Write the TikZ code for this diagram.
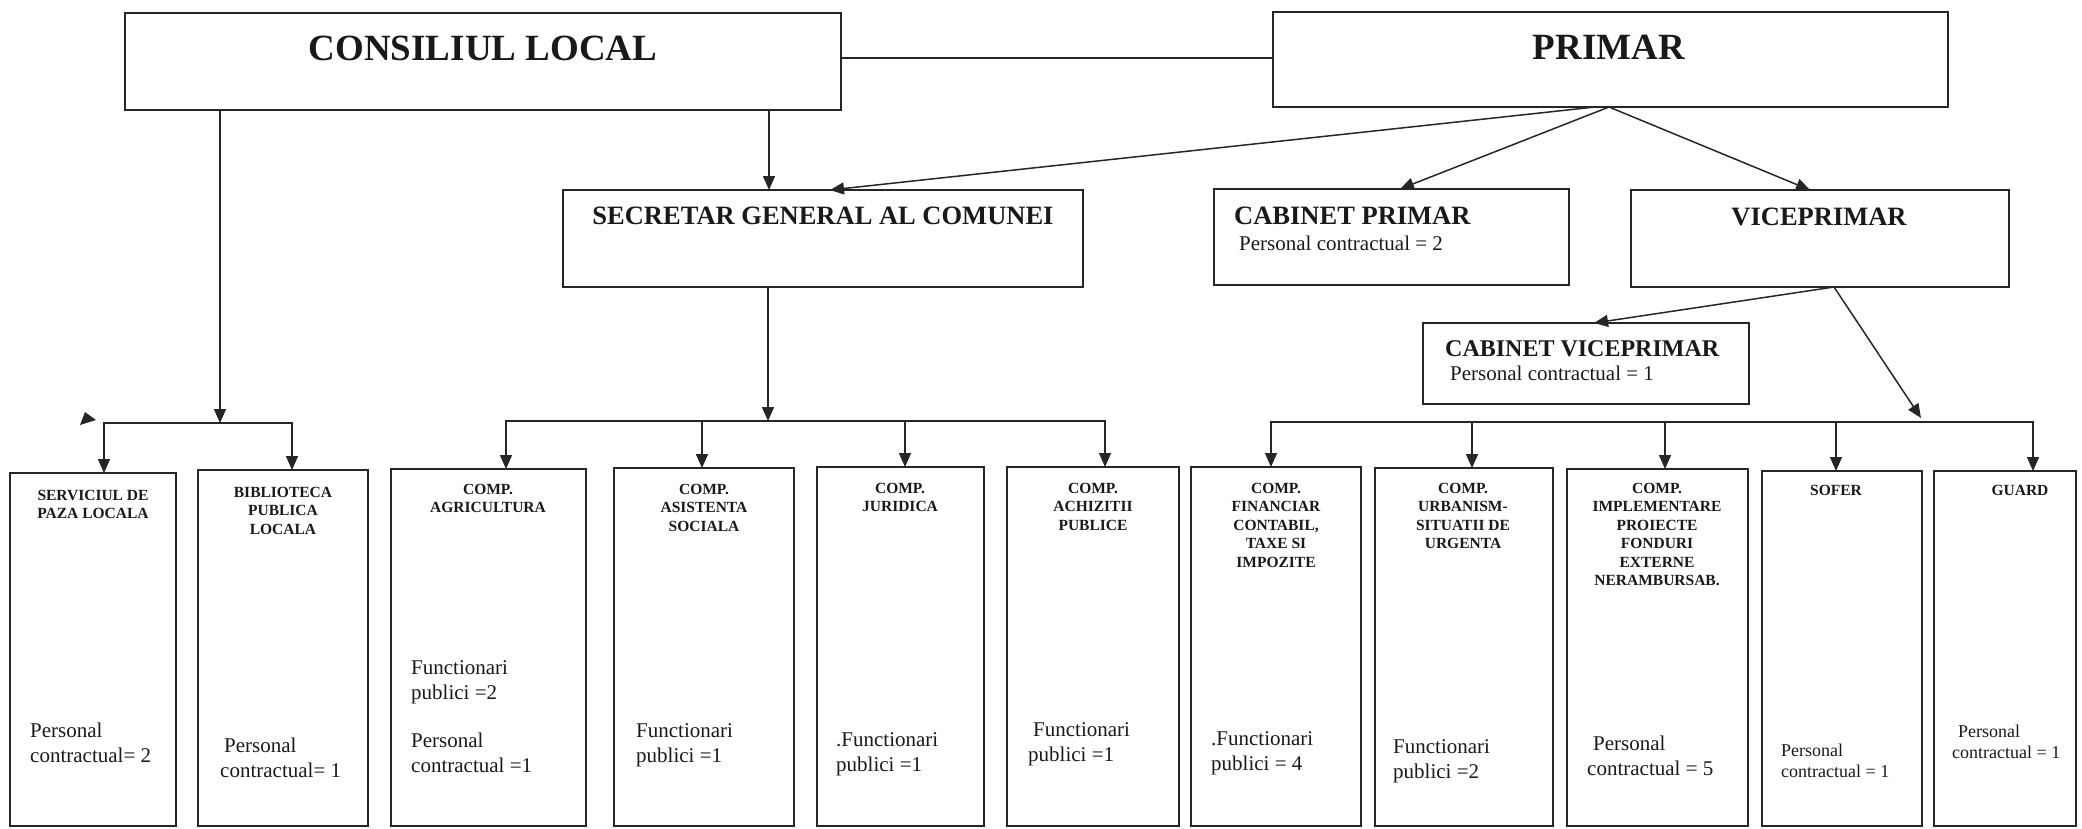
\documentclass[tikz,border=0pt]{standalone}
\usepackage{fontspec}
\setmainfont{Liberation Serif}
\usetikzlibrary{arrows.meta}
\newcommand\obox[5]{\node[box, minimum width={#4-#2}, minimum height={#5-#3}] (#1) at ({(#2+#4)/2},{(#3+#5)/2}) {};}
\tikzset{
 box/.style={draw=black!85, line width=1.8pt, inner sep=0pt, outer sep=0pt, rectangle},
 conn/.style={draw=black!85, line width=1.5pt},
 arr/.style={conn, -{Triangle[length=14pt,width=12pt]}},
 bigt/.style={inner sep=0pt, anchor=north, text=black!90, font=\bfseries\fontsize{37}{44}\selectfont},
 midt/.style={inner sep=0pt, text=black!90, font=\bfseries\fontsize{26.5}{31}\selectfont},
 smt/.style={inner sep=0pt, anchor=north, align=center, text=black!90, font=\bfseries\fontsize{15.5}{18.5}\selectfont},
 bodyt/.style={inner sep=0pt, anchor=north west, align=left, text=black!90, font=\fontsize{21}{25}\selectfont},
 smbody/.style={inner sep=0pt, anchor=north west, align=left, text=black!90, font=\fontsize{18}{20.5}\selectfont}
}
\begin{document}
\begin{tikzpicture}[x=1pt,y=-1pt]
\useasboundingbox (0,0) rectangle (2082,828);
% boxes
\obox{cl}{125}{13}{841}{110}
\obox{pr}{1273}{12}{1948}{107}
\obox{sec}{563}{190}{1083}{287}
\obox{cp}{1214}{189}{1569}{285}
\obox{vp}{1631}{190}{2009}{287}
\obox{cvp}{1423}{323}{1749}{404}
\obox{srv}{10}{473}{176}{826}
\obox{bib}{198}{470}{368}{826}
\obox{agr}{391}{469}{586}{826}
\obox{asi}{614}{468}{794}{826}
\obox{jur}{817}{467}{984}{826}
\obox{ach}{1007}{467}{1179}{826}
\obox{fin}{1191}{467}{1361}{826}
\obox{urb}{1375}{468}{1553}{826}
\obox{imp}{1567}{469}{1748}{826}
\obox{sof}{1762}{471}{1922}{826}
\obox{gua}{1934}{471}{2076}{826}
% titles
\node[bigt] (tcl) at (483,36) {CONSILIUL LOCAL};
\node[bigt] (tpr) at (1609,35) {PRIMAR};
\node[midt, anchor=north] (tsec) at (823,207) {SECRETAR GENERAL AL COMUNEI};
\node[midt, anchor=north west] (tcp) at (1234,207) {CABINET PRIMAR};
\node[bodyt] (bcp) at (1239,236) {Personal contractual = 2};
\node[midt, anchor=north] (tvp) at (1819,208) {VICEPRIMAR};
\node[midt, anchor=north west, font=\bfseries\fontsize{24}{28}\selectfont] (tcvp) at (1445,340) {CABINET VICEPRIMAR};
\node[bodyt] (bcvp) at (1450,366) {Personal contractual = 1};
% small box titles
\node[smt] (tsrv) at (93,490) {SERVICIUL DE\\PAZA LOCALA};
\node[smt] (tbib) at (283,487) {BIBLIOTECA\\PUBLICA\\LOCALA};
\node[smt] (tagr) at (488,484) {COMP.\\AGRICULTURA};
\node[smt] (tasi) at (704,484) {COMP.\\ASISTENTA\\SOCIALA};
\node[smt] (tjur) at (900,483) {COMP.\\JURIDICA};
\node[smt] (tach) at (1093,483) {COMP.\\ACHIZITII\\PUBLICE};
\node[smt] (tfin) at (1276,483) {COMP.\\FINANCIAR\\CONTABIL,\\TAXE SI\\IMPOZITE};
\node[smt] (turb) at (1463,483) {COMP.\\URBANISM-\\SITUATII DE\\URGENTA};
\node[smt] (timp) at (1657,483) {COMP.\\IMPLEMENTARE\\PROIECTE\\FONDURI\\EXTERNE\\NERAMBURSAB.};
\node[smt] (tsof) at (1836,485) {SOFER};
\node[smt] (tgua) at (2020,485) {GUARD};
% body texts
\node[bodyt] (bsrv) at (30,723) {Personal\\contractual= 2};
\node[bodyt] (bbib) at (220,738) {\hspace{4pt}Personal\\contractual= 1};
\node[bodyt] (bagr1) at (411,660) {Functionari\\publici =2};
\node[bodyt] (bagr2) at (411,733) {Personal\\contractual =1};
\node[bodyt] (basi) at (636,723) {Functionari\\publici =1};
\node[bodyt] (bjur) at (836,732) {.Functionari\\publici =1};
\node[bodyt] (bach) at (1028,722) {\hspace{5pt}Functionari\\publici =1};
\node[bodyt] (bfin) at (1211,731) {.Functionari\\publici = 4};
\node[bodyt] (burb) at (1393,739) {Functionari\\publici =2};
\node[bodyt] (bimp) at (1587,736) {\hspace{6pt}Personal\\contractual = 5};
\node[smbody] (bsof) at (1781,744) {Personal\\contractual = 1};
\node[smbody] (bgua) at (1952,725) {\hspace{6pt}Personal\\contractual = 1};
% coordinates
\coordinate (hy) at (0,58);
\coordinate (xcl) at (220,423);
\coordinate (lb1) at (104,423);
\coordinate (lb2) at (292,423);
\coordinate (xsec) at (769,0);
\coordinate (xa) at (1595,0);
\coordinate (xs2) at (830,0);
\coordinate (xp) at (1609,0);
\coordinate (xcp) at (1400,0);
\coordinate (xvp) at (1810,0);
\coordinate (xv) at (1834,0);
\coordinate (xcv) at (1594,0);
\coordinate (vtip) at (1921,418);
\coordinate (mb) at (768,421);
\coordinate (m1) at (506,421);
\coordinate (m2) at (702,421);
\coordinate (m3) at (905,421);
\coordinate (m4) at (1105,421);
\coordinate (r1) at (1271,422);
\coordinate (r2) at (1472,422);
\coordinate (r3) at (1665,422);
\coordinate (r4) at (1836,422);
\coordinate (r5) at (2033,422);
% connectors
\draw[conn] (cl.east |- hy) -- (pr.west |- hy);
\draw[arr] (cl.south -| xcl) -- (xcl);
\draw[conn, line cap=rect] (lb1) -- (lb2);
\draw[arr] (lb1) -- (srv.north -| lb1);
\draw[arr] (lb2) -- (bib.north -| lb2);
\fill[black!85] (85,412) -- (80,425) -- (96,420) -- cycle;
\draw[arr] (cl.south -| xsec) -- (sec.north -| xsec);
\draw[arr] (pr.south -| xa) -- (sec.north -| xs2);
\draw[arr] (pr.south -| xp) -- (cp.north -| xcp);
\draw[arr] (pr.south -| xp) -- (vp.north -| xvp);
\draw[arr] (vp.south -| xv) -- (cvp.north -| xcv);
\draw[arr] (vp.south -| xv) -- (vtip);
\draw[arr] (sec.south -| mb) -- (mb);
\draw[conn, line cap=rect] (m1) -- (m4);
\draw[arr] (m1) -- (agr.north -| m1);
\draw[arr] (m2) -- (asi.north -| m2);
\draw[arr] (m3) -- (jur.north -| m3);
\draw[arr] (m4) -- (ach.north -| m4);
\draw[conn, line cap=rect] (r1) -- (r5);
\draw[arr] (r1) -- (fin.north -| r1);
\draw[arr] (r2) -- (urb.north -| r2);
\draw[arr] (r3) -- (imp.north -| r3);
\draw[arr] (r4) -- (sof.north -| r4);
\draw[arr] (r5) -- (gua.north -| r5);
\end{tikzpicture}
\end{document}
